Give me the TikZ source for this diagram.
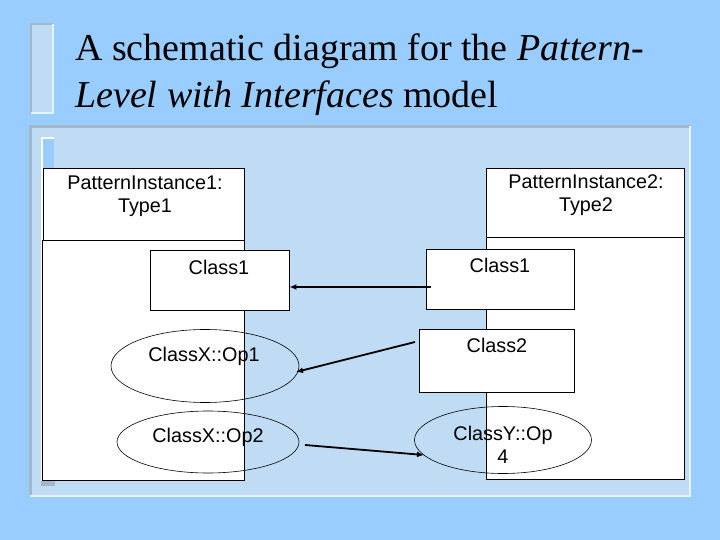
\documentclass[tikz,border=0pt]{standalone}
\usepackage{fontspec}
\setmainfont{Liberation Sans}
\newfontfamily\titlefont{Liberation Serif}
\usetikzlibrary{arrows.meta,shapes.geometric}
\definecolor{bgblue}{HTML}{99CCFF}
\definecolor{panelblue}{HTML}{C0DCF4}
\definecolor{edgegray}{HTML}{A3B7CC}
\definecolor{edgewhite}{HTML}{E6F4FF}
\tikzset{
  box/.style={draw=black, line width=0.9pt, fill=white, inner sep=0pt},
  oval/.style={draw=black, line width=0.6pt, ellipse, inner sep=0pt},
  lbl/.style={font=\fontsize{19.8}{23.5}\selectfont, align=center, inner sep=0pt},
  link/.style={draw=black, line width=1.8pt, -{Latex[length=7pt,width=6pt]}},
}
\begin{document}
\begin{tikzpicture}[x=1pt,y=-1pt]
\useasboundingbox (0,0) rectangle (720,540);
\fill[bgblue] (0,0) rectangle (720,540);
% title bar
\fill[panelblue] (30,23) rectangle (53,114);
\draw[edgegray, line width=2.5pt] (31,114) -- (31,24) -- (53,24);
\draw[edgewhite, line width=2pt] (31,113) -- (53,113) -- (53,24);
% title
\node[anchor=base west, inner sep=0pt, font=\titlefont\fontsize{38}{46}\selectfont] (t1) at (75,61) {A schematic diagram for the \textit{Pattern-}};
\node[anchor=base west, inner sep=0pt, font=\titlefont\fontsize{38}{46}\selectfont] (t2) at (75,108) {\textit{Level with Interfaces} model};
% panel
\fill[panelblue] (29,125) rectangle (691,497);
\draw[edgegray, line width=3pt] (30,497) -- (30,126.5) -- (691,126.5);
\draw[edgewhite, line width=2.5pt] (30,496) -- (690,496) -- (690,126);
% bullet bar
\fill[bgblue] (41,137) rectangle (54,486);
\draw[white, line width=2pt] (42,486) -- (42,138) -- (54,138);
\fill[edgegray] (41,481) rectangle (55,486);
% left pattern instance
\node[box, minimum width=202, minimum height=240] (b1) at (143,360) {};
\node[box, minimum width=201, minimum height=72] (h1) at (143.5,204) {};
\node[lbl] (h1t) at (145,196) {PatternInstance1:\\Type1};
% right pattern instance
\node[box, minimum width=198, minimum height=242] (b2) at (585,358) {};
\node[box, minimum width=198, minimum height=69] (h2) at (585,202.5) {};
\node[lbl] (h2t) at (586,195) {PatternInstance2:\\Type2};
% ellipses
\node[oval, minimum width=188, minimum height=73] (e1) at (205,366) {};
\node[lbl] (e1t) at (204,356) {ClassX::Op1};
\node[oval, minimum width=182, minimum height=62] (e2) at (208,442) {};
\node[lbl] (e2t) at (208,437) {ClassX::Op2};
\node[oval, minimum width=177, minimum height=67] (e3) at (503,440) {};
\node[lbl] (e3t) at (503,445) {ClassY::Op\\4};
% classes
\node[box, minimum width=139, minimum height=60] (c1l) at (219.5,280) {};
\node[lbl] (c1lt) at (219,267) {Class1};
\node[box, minimum width=148, minimum height=60] (c1r) at (500,279) {};
\node[lbl] (c1rt) at (500,265) {Class1};
\node[box, minimum width=155, minimum height=63] (c2) at (496.5,360.5) {};
\node[lbl] (c2t) at (497,345) {Class2};
% connectors
\coordinate (s1) at (431,287);
\coordinate (s2) at (415,342);
\coordinate (p2) at (296,372);
\coordinate (s3) at (305,445);
\coordinate (p3) at (424,455);
\draw[link] (s1) -- (c1l.east |- s1);
\draw[link] (s2) -- (p2);
\draw[link] (s3) -- (p3);
\end{tikzpicture}
\end{document}
